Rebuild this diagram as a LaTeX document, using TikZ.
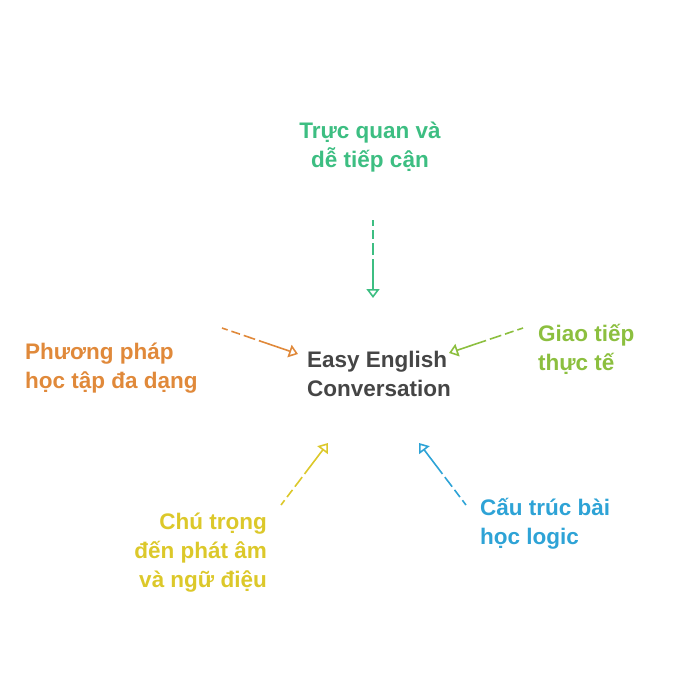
\documentclass[tikz,border=0pt]{standalone}
\usepackage{fontspec}
\setmainfont{Liberation Sans}
\usetikzlibrary{arrows.meta}
\definecolor{cgreen}{HTML}{3DBE82}
\definecolor{corange}{HTML}{E0893A}
\definecolor{clime}{HTML}{8CBF3F}
\definecolor{cyellow}{HTML}{DCC82A}
\definecolor{cblue}{HTML}{2EA3D6}
\definecolor{cdark}{HTML}{454545}
\tikzset{
  lbl/.style={inner sep=0pt, font=\fontsize{22.5}{29}\selectfont\bfseries},
  conn/.style={line width=1.6pt, dash pattern=on 6pt off 4pt on 9pt off 4pt on 12pt off 4pt on 300pt off 0pt,
    -{Triangle[open,width=13pt,length=9pt,line width=1.6pt]}}
}
\begin{document}
\begin{tikzpicture}[x=1pt,y=-1pt]
\useasboundingbox (0,0) rectangle (700,688);
\node[lbl, text=cdark, anchor=west, align=left] (center) at (307,374) {Easy English\\Conversation};
\node[lbl, text=cgreen, align=center] (top) at (370,147) {Trực quan và\\dễ tiếp cận};
\node[lbl, text=corange, anchor=west, align=left] (left) at (25,368) {Phương pháp\\học tập đa dạng};
\node[lbl, text=clime, anchor=west, align=left] (right) at (538,349) {Giao tiếp\\thực tế};
\node[lbl, text=cyellow, anchor=east, align=right] (bl) at (267,553) {Chú trọng\\đến phát âm\\và ngữ điệu};
\node[lbl, text=cblue, anchor=west, align=left] (br) at (480,524) {Cấu trúc bài\\học logic};
\coordinate (ts) at (373,220); \coordinate (te) at (373,298);
\coordinate (ls) at (222,328); \coordinate (le) at (298,354);
\coordinate (rs) at (523,328); \coordinate (re) at (449,353);
\coordinate (bls) at (281,505); \coordinate (ble) at (328,443);
\coordinate (brs) at (466,505); \coordinate (bre) at (419,443);
\draw[conn, cgreen] (ts) -- (te);
\draw[conn, corange] (ls) -- (le);
\draw[conn, clime] (rs) -- (re);
\draw[conn, cyellow] (bls) -- (ble);
\draw[conn, cblue] (brs) -- (bre);
\end{tikzpicture}
\end{document}
